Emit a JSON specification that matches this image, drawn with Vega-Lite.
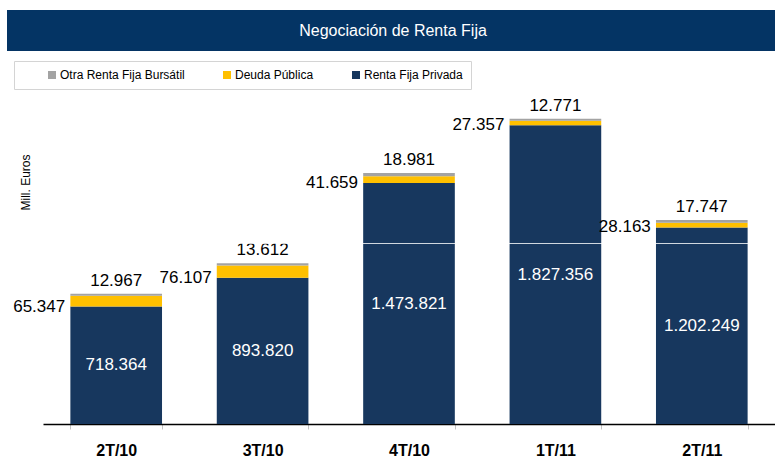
{
  "$schema": "https://vega.github.io/schema/vega-lite/v6.json",
  "padding": {"left": 7, "top": 10, "right": 0, "bottom": 0},
  "background": "white",
  "spacing": 46,
  "bounds": "flush",
  "config": {
    "locale": {"number": {"decimal": ",", "thousands": ".", "grouping": [3], "currency": ["", " €"]}},
    "font": "Liberation Sans",
    "view": {"stroke": null}
  },
  "datasets": {
    "titulo": [{"texto": "Negociación de Renta Fija"}],
    "negociacion": [
      {"trimestre": "2T/10", "serie": "Renta Fija Privada", "valor": 718364, "orden": 1},
      {"trimestre": "2T/10", "serie": "Deuda Pública", "valor": 65347, "orden": 2},
      {"trimestre": "2T/10", "serie": "Otra Renta Fija Bursátil", "valor": 12967, "orden": 3},
      {"trimestre": "3T/10", "serie": "Renta Fija Privada", "valor": 893820, "orden": 1},
      {"trimestre": "3T/10", "serie": "Deuda Pública", "valor": 76107, "orden": 2},
      {"trimestre": "3T/10", "serie": "Otra Renta Fija Bursátil", "valor": 13612, "orden": 3},
      {"trimestre": "4T/10", "serie": "Renta Fija Privada", "valor": 1473821, "orden": 1},
      {"trimestre": "4T/10", "serie": "Deuda Pública", "valor": 41659, "orden": 2},
      {"trimestre": "4T/10", "serie": "Otra Renta Fija Bursátil", "valor": 18981, "orden": 3},
      {"trimestre": "1T/11", "serie": "Renta Fija Privada", "valor": 1827356, "orden": 1},
      {"trimestre": "1T/11", "serie": "Deuda Pública", "valor": 27357, "orden": 2},
      {"trimestre": "1T/11", "serie": "Otra Renta Fija Bursátil", "valor": 12771, "orden": 3},
      {"trimestre": "2T/11", "serie": "Renta Fija Privada", "valor": 1202249, "orden": 1},
      {"trimestre": "2T/11", "serie": "Deuda Pública", "valor": 28163, "orden": 2},
      {"trimestre": "2T/11", "serie": "Otra Renta Fija Bursátil", "valor": 17747, "orden": 3}
    ]
  },
  "vconcat": [
    {
      "width": 768,
      "height": 41,
      "view": {"fill": "#043464", "stroke": null},
      "data": {"name": "titulo"},
      "mark": {"type": "text", "color": "white", "fontSize": 16, "font": "Liberation Sans", "baseline": "middle", "align": "center", "dx": 2},
      "encoding": {"text": {"field": "texto", "type": "nominal"}}
    },
    {
      "width": 768,
      "height": 327,
      "data": {"name": "negociacion"},
      "encoding": {
        "x": {
          "field": "trimestre",
          "type": "nominal",
          "sort": ["2T/10", "3T/10", "4T/10", "1T/11", "2T/11"],
          "scale": {"range": [36, 768], "paddingInner": 0.374, "paddingOuter": 0.187},
          "axis": {
            "title": null,
            "labelAngle": 0,
            "labelFont": "Liberation Sans",
            "labelFontWeight": "bold",
            "labelFontSize": 16,
            "labelColor": "black",
            "labelPadding": 13,
            "tickSize": 5,
            "tickColor": "#c4c4c4",
            "tickBand": "extent",
            "domainColor": "black",
            "domainWidth": 1.5
          }
        }
      },
      "layer": [
        {
          "mark": {"type": "bar"},
          "encoding": {
            "y": {
              "field": "valor",
              "type": "quantitative",
              "stack": "zero",
              "scale": {"domain": [0, 2000000], "nice": false},
              "axis": {
                "title": "Mill. Euros",
                "titleFont": "Liberation Sans",
                "titleFontSize": 12,
                "titleFontWeight": "normal",
                "titleColor": "black",
                "titleAngle": -90,
                "titleX": 18,
                "titleY": 85,
                "titleAlign": "center",
                "titleBaseline": "middle",
                "labels": false,
                "ticks": false,
                "domain": false,
                "grid": true,
                "values": [1108000],
                "gridColor": "white",
                "gridOpacity": 0.8,
                "gridWidth": 1,
                "zindex": 1
              }
            },
            "color": {
              "field": "serie",
              "type": "nominal",
              "scale": {
                "domain": ["Otra Renta Fija Bursátil", "Deuda Pública", "Renta Fija Privada"],
                "range": ["#a3a3a3", "#ffc000", "#17375e"]
              },
              "legend": {
                "title": " ",
                "titleOrient": "left",
                "titlePadding": 24,
                "orient": "none",
                "legendX": 7,
                "legendY": 51,
                "direction": "horizontal",
                "symbolType": "square",
                "symbolSize": 64,
                "symbolStrokeWidth": 0,
                "labelFont": "Liberation Sans",
                "labelFontSize": 12,
                "labelColor": "black",
                "labelOffset": 2,
                "columnPadding": 36,
                "padding": 8,
                "strokeColor": "#d4d4d4",
                "fillColor": "white"
              }
            },
            "order": {"field": "orden", "type": "quantitative"}
          }
        },
        {
          "transform": [{"filter": "datum.serie === 'Renta Fija Privada'"}],
          "mark": {"type": "text", "color": "white", "fontSize": 17, "baseline": "middle", "align": "center"},
          "encoding": {
            "y": {"field": "valor", "type": "quantitative", "scale": {"domain": [0, 4000000], "nice": false}, "axis": null},
            "text": {"field": "valor", "type": "quantitative", "format": ",d"}
          }
        },
        {
          "transform": [{"pivot": "serie", "value": "valor", "groupby": ["trimestre"]}],
          "mark": {"type": "text", "color": "black", "fontSize": 17, "baseline": "middle", "align": "right", "dx": -51},
          "encoding": {
            "y": {"field": "Renta Fija Privada", "type": "quantitative", "scale": {"domain": [0, 2000000], "nice": false}, "axis": null},
            "text": {"field": "Deuda Pública", "type": "quantitative", "format": ",d"}
          }
        },
        {
          "transform": [
            {"joinaggregate": [{"op": "sum", "field": "valor", "as": "total"}], "groupby": ["trimestre"]},
            {"filter": "datum.serie === 'Otra Renta Fija Bursátil'"}
          ],
          "mark": {"type": "text", "color": "black", "fontSize": 17, "baseline": "alphabetic", "align": "center", "dy": -8},
          "encoding": {
            "y": {"field": "total", "type": "quantitative", "scale": {"domain": [0, 2000000], "nice": false}, "axis": null},
            "text": {"field": "valor", "type": "quantitative", "format": ",d"}
          }
        }
      ],
      "resolve": {"scale": {"y": "independent"}}
    }
  ]
}
